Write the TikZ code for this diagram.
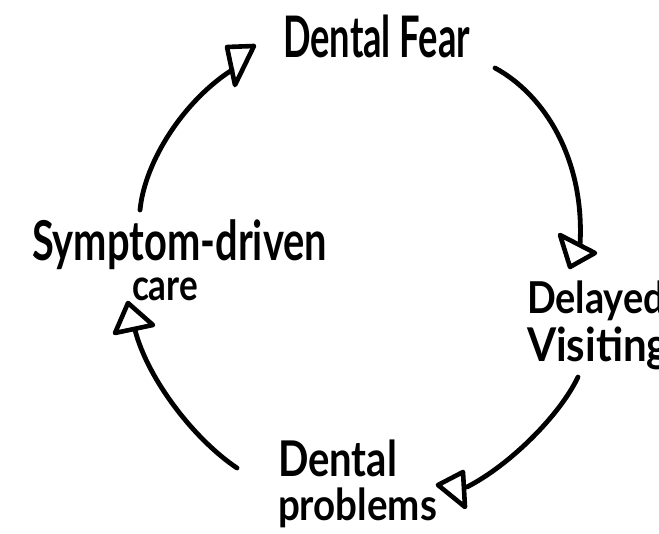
\documentclass[tikz,border=0pt]{standalone}
\usepackage{fontspec}
\usepackage{graphicx}
\setmainfont{Lato}
\begin{document}
\begin{tikzpicture}[x=1pt,y=-1pt,
  lbl/.style={inner sep=0pt, outer sep=0pt, anchor=north west, font=\bfseries},
  stroke/.style={line width=4.8pt, line cap=round, line join=round, black},
  head/.style={line width=4.6pt, line join=round, line cap=round, black}]
  \useasboundingbox[fill=white] (0,0) rectangle (659,534);

  % labels of the cycle
  \node[lbl] (fear)   at (283,15)  {\resizebox*{187pt}{43pt}{Dental Fear}};
  \node[lbl] (delay)  at (527,281) {\resizebox*{138pt}{40pt}{Delayed}};
  \node[lbl] (visit)  at (527,327) {\resizebox*{142pt}{43pt}{Visiting}};
  \node[lbl] (dent)   at (278,440) {\resizebox*{119pt}{37pt}{Dental}};
  \node[lbl] (probs)  at (278,488) {\resizebox*{159pt}{40pt}{problems}};
  \node[lbl] (symp)   at (32,220)  {\resizebox*{295pt}{50pt}{Symptom-driven}};
  \node[lbl] (care)   at (132,278) {\resizebox*{66pt}{23pt}{care}};

  % end points of the four arcs
  \coordinate (s1) at (140,210); \coordinate (e1) at (232,70);
  \coordinate (s2) at (495,68);  \coordinate (e2) at (580,245);
  \coordinate (s3) at (578,377); \coordinate (e3) at (467,487);
  \coordinate (s4) at (237,468); \coordinate (e4) at (135,330);

  % arcs
  \draw[stroke] (s1) .. controls (145,160) and (185,100) .. (e1);
  \draw[stroke] (s2) .. controls (545,95) and (585,160) .. (e2);
  \draw[stroke] (s3) .. controls (560,415) and (510,465) .. (e3);
  \draw[stroke] (s4) .. controls (195,440) and (148,380) .. (e4);

  % open triangular heads
  \draw[head, shift={(e1)}] (-5,-23) -- (22,-24) -- (3,15) -- cycle;
  \draw[head, shift={(e2)}] (-20,-10) -- (15,8) -- (-10,22) -- cycle;
  \draw[head, shift={(e3)}] (-29,-2) -- (-4,-15) -- (-2,20) -- cycle;
  \draw[head, shift={(e4)}] (-7,-27) -- (-20,3) -- (18,-5) -- cycle;
\end{tikzpicture}
\end{document}
